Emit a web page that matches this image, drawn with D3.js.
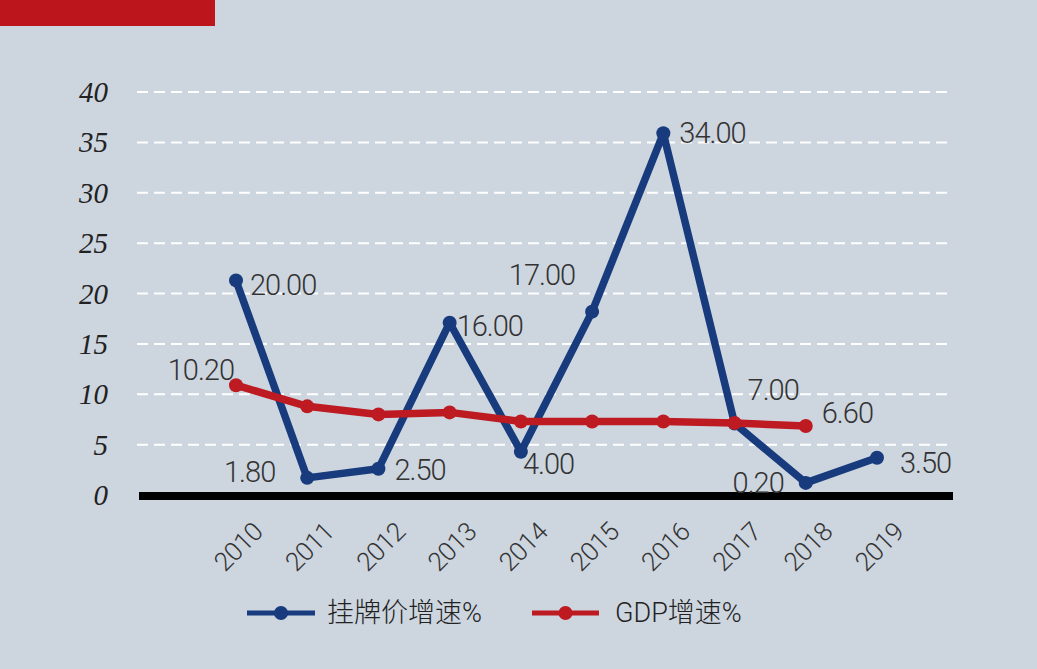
<!DOCTYPE html>
<html><head><meta charset="utf-8">
<script src="https://cdn.jsdelivr.net/npm/d3@7"></script>
<style>
html,body{margin:0;padding:0;background:#cdd5df;}
svg{display:block;}
</style></head>
<body>
<svg id="chart" width="1037" height="669"></svg>
<script>
// ---- data ----
const years = ["2010","2011","2012","2013","2014","2015","2016","2017","2018","2019"];
const priceGrowth = [21.3, 1.7, 2.6, 17.1, 4.3, 18.2, 35.9, 7.1, 1.2, 3.7];
const priceLabels = ["20.00","1.80","2.50","16.00","4.00","17.00","34.00","7.00","0.20","3.50"];
const gdpGrowth = [10.9, 8.8, 8.0, 8.2, 7.3, 7.3, 7.3, 7.15, 6.85];
const gdpLabels = ["10.20", null, null, null, null, null, null, null, "6.60"];
const yTicks = [0, 5, 10, 15, 20, 25, 30, 35, 40];
const seriesNames = ["挂牌价增速%", "GDP增速%"];

// ---- styling / placement ----
const blue = "#173b7c", red = "#bd1a22";
const labelFont = "Roboto, 'Liberation Sans', Arial, sans-serif";
const priceLabelPos = [
  {dx:14, dy:5, a:"start"}, {dx:-32, dy:-6, a:"end"}, {dx:16, dy:1, a:"start"},
  {dx:7, dy:3, a:"start"}, {dx:2, dy:12, a:"start"}, {dx:-17, dy:-37, a:"end"},
  {dx:16, dy:0, a:"start"}, {dx:13, dy:-33, a:"start"}, {dx:-22, dy:0, a:"end"},
  {dx:23, dy:5, a:"start"}
];
const gdpLabelPos = [{dx:-2, dy:-15, a:"end"}, null, null, null, null, null, null, null, {dx:16, dy:-13, a:"start"}];

const svg = d3.select("#chart");
svg.append("rect").attr("width",1037).attr("height",669).attr("fill","#cdd5df");
svg.append("rect").attr("x",0).attr("y",0).attr("width",215).attr("height",26).attr("fill","#bd151c");

const x = d3.scalePoint().domain(years).range([236, 877]);
const y = d3.scaleLinear().domain([0, 40]).range([495, 92]);

// gridlines
svg.append("g").selectAll("line").data(yTicks.filter(d => d > 0)).join("line")
  .attr("x1", 137).attr("x2", 953)
  .attr("y1", d => y(d)).attr("y2", d => y(d))
  .attr("stroke", "#ffffff").attr("stroke-width", 2)
  .attr("stroke-dasharray", "11,6");

// y tick labels
svg.append("g").selectAll("text").data(yTicks).join("text")
  .attr("x", 108).attr("y", d => y(d))
  .attr("text-anchor", "end").attr("dominant-baseline", "central")
  .attr("font-family", "'Liberation Serif', 'DejaVu Serif', serif")
  .attr("font-style", "italic").attr("font-size", 29).attr("fill", "#222")
  .text(d => d);

// x axis line
svg.append("rect").attr("x", 139).attr("y", 492).attr("width", 814).attr("height", 8).attr("fill", "#000");

// x labels
svg.append("g").selectAll("text").data(years).join("text")
  .attr("transform", d => `translate(${x(d) + 22},${527}) rotate(-45)`)
  .attr("text-anchor", "end").attr("dominant-baseline", "central")
  .attr("font-family", labelFont).attr("font-weight", 300)
  .attr("font-size", 26).attr("fill", "#333").attr("letter-spacing", -0.5)
  .text(d => d);

const line = d3.line().x((d, i) => x(years[i])).y(d => y(d));

function drawSeries(values, color) {
  svg.append("path").datum(values).attr("d", line)
    .attr("fill", "none").attr("stroke", color).attr("stroke-width", 7.5)
    .attr("stroke-linejoin", "round");
  svg.append("g").selectAll("circle").data(values).join("circle")
    .attr("cx", (d, i) => x(years[i])).attr("cy", d => y(d)).attr("r", 7)
    .attr("fill", color);
}
drawSeries(priceGrowth, blue);
drawSeries(gdpGrowth, red);

function drawLabels(values, labels, pos) {
  svg.append("g").selectAll("text").data(values.map((v, i) => ({v, i})).filter(d => labels[d.i])).join("text")
    .attr("x", d => x(years[d.i]) + pos[d.i].dx)
    .attr("y", d => y(d.v) + pos[d.i].dy)
    .attr("text-anchor", d => pos[d.i].a).attr("dominant-baseline", "central")
    .attr("font-family", labelFont).attr("font-weight", 300)
    .attr("font-size", 29).attr("letter-spacing", -1).attr("fill", "#333")
    .text(d => labels[d.i]);
}
drawLabels(priceGrowth, priceLabels, priceLabelPos);
drawLabels(gdpGrowth, gdpLabels, gdpLabelPos);

// legend
const legend = [
  {name: seriesNames[0], color: blue, x1: 247, x2: 315, tx: 327},
  {name: seriesNames[1], color: red, x1: 532, x2: 599, tx: 615}
];
const lg = svg.append("g");
legend.forEach(l => {
  lg.append("line").attr("x1", l.x1).attr("x2", l.x2).attr("y1", 613).attr("y2", 613)
    .attr("stroke", l.color).attr("stroke-width", 5);
  lg.append("circle").attr("cx", (l.x1 + l.x2) / 2).attr("cy", 613).attr("r", 7).attr("fill", l.color);
  lg.append("text").attr("x", l.tx).attr("y", 613).attr("dominant-baseline", "central")
    .attr("font-family", "Roboto, 'Noto Sans CJK SC', sans-serif").attr("font-weight", 300)
    .attr("font-size", 27).attr("fill", "#222").text(l.name);
});
</script>
</body></html>
